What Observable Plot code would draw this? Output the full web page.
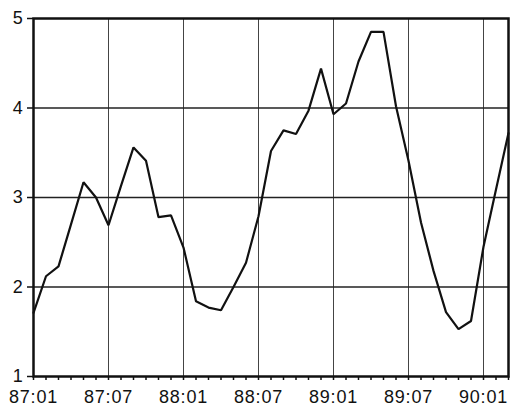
<!DOCTYPE html>
<html>
<head>
<meta charset="utf-8">
<script src="https://cdn.jsdelivr.net/npm/d3@7"></script>
<script src="https://cdn.jsdelivr.net/npm/@observablehq/plot@0.6"></script>
<style>
  html, body { margin: 0; padding: 0; background: #fff; }
  #chart svg { display: block; }
</style>
</head>
<body>
<div id="chart"></div>
<script>
// Monthly series, 87:01 through 90:03
const monthIndex = d3.range(39);
const values = [
  1.71, 2.12, 2.23, 2.70, 3.17, 3.00, 2.69, 3.13, 3.56, 3.41, 2.78, 2.80,
  2.44, 1.84, 1.77, 1.74, 2.00, 2.27, 2.79, 3.52, 3.75, 3.71, 3.97, 4.44,
  3.93, 4.05, 4.52, 4.85, 4.85, 4.02, 3.41, 2.72, 2.18, 1.72, 1.53, 1.62,
  2.45, 3.09, 3.72
];
const tickMonths = [0, 6, 12, 18, 24, 30, 36];
const tickLabels = ["87:01", "87:07", "88:01", "88:07", "89:01", "89:07", "90:01"];
const yTicks = [1, 2, 3, 4, 5];
const yGrid = [2, 3, 4];

const data = monthIndex.map((i) => ({month: i, value: values[i]}));
const labelOf = new Map(tickMonths.map((m, k) => [m, tickLabels[k]]));

const chart = Plot.plot({
  width: 510,
  height: 412,
  marginLeft: 33,
  marginTop: 18,
  marginRight: 2,
  marginBottom: 36,
  style: {
    fontFamily: "'Liberation Sans', Arial, sans-serif",
    fontSize: "18px",
    letterSpacing: "0.8px",
    background: "#fff",
    color: "#111"
  },
  x: {domain: [0, 38]},
  y: {domain: [1, 5]},
  marks: [
    Plot.gridX(tickMonths, {stroke: "#444", strokeOpacity: 1, strokeWidth: 1}),
    Plot.gridY(yGrid, {stroke: "#222", strokeOpacity: 1, strokeWidth: 1.5}),
    Plot.axisX(monthIndex, {tickSize: 4, tickFormat: () => "", strokeWidth: 1.5, label: null}),
    Plot.axisX(tickMonths, {tickSize: 0, tickPadding: 14, tickFormat: (d) => labelOf.get(d), label: null}),
    Plot.axisY(yTicks, {tickSize: 6, tickPadding: 4, tickFormat: (d) => String(d), strokeWidth: 1.5, label: null}),
    Plot.line(data, {x: "month", y: "value", stroke: "#111", strokeWidth: 2.2, strokeLinejoin: "miter"}),
    Plot.frame({stroke: "#111", strokeWidth: 2.5})
  ]
});

document.getElementById("chart").append(chart);
</script>
</body>
</html>
